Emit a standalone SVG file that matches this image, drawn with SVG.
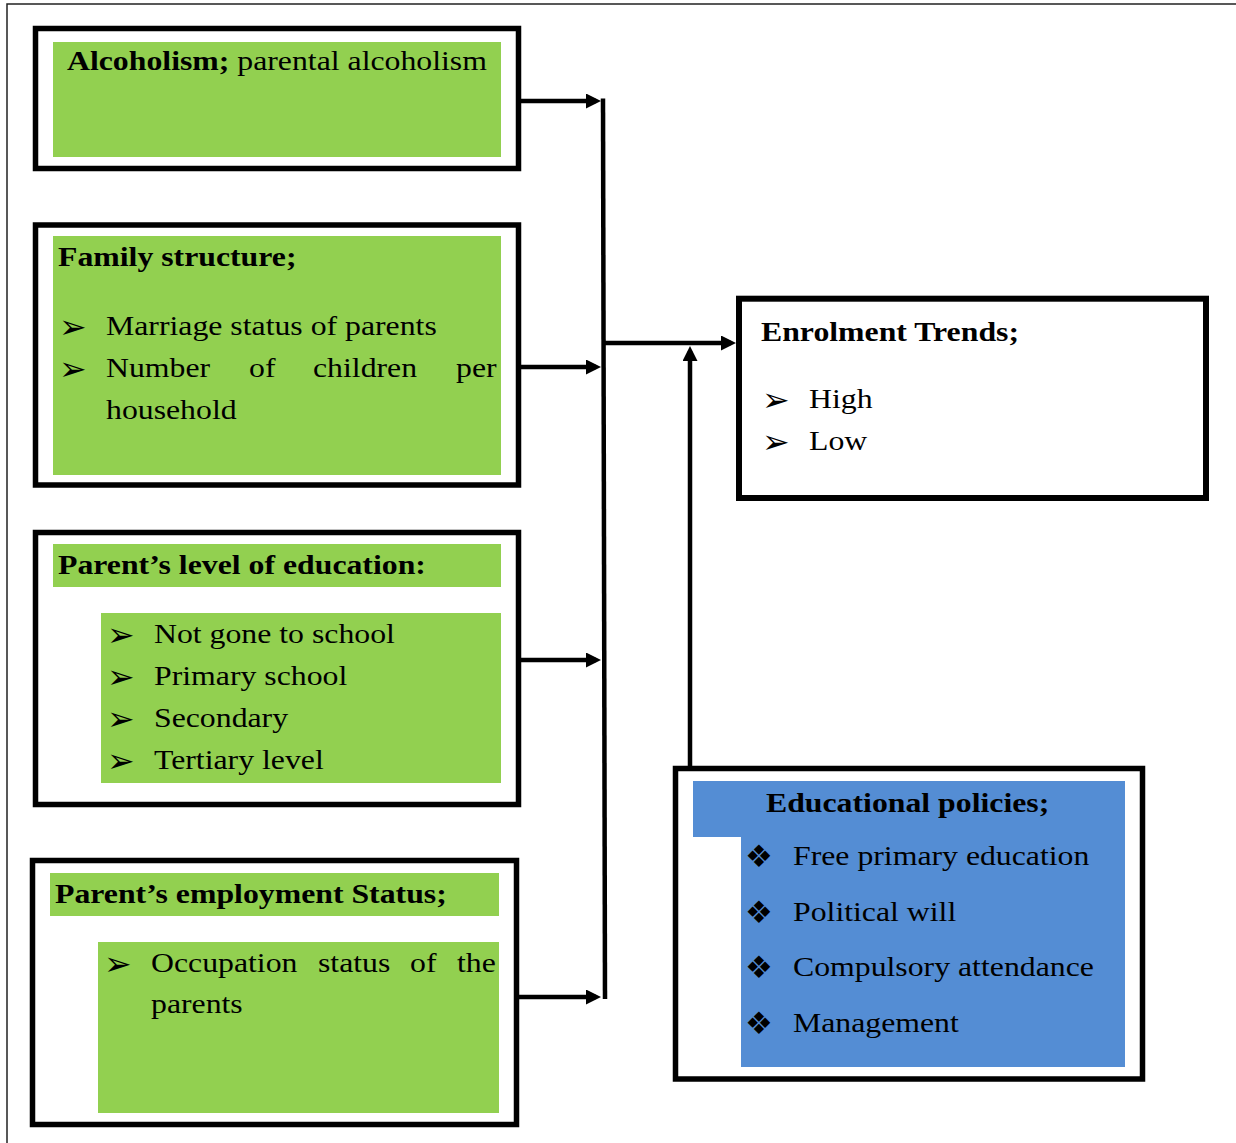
<svg xmlns="http://www.w3.org/2000/svg" width="1236" height="1143" viewBox="0 0 1236 1143">
<style>
.t{font-family:"Liberation Serif","Times New Roman",serif;font-size:28px;fill:#000}
.b{font-weight:bold}
.bul{font-family:"DejaVu Sans",sans-serif;font-size:33px;fill:#000}
.dia{font-family:"DejaVu Sans",sans-serif;font-size:31px;fill:#000}
.box{fill:#fff;stroke:#000;stroke-width:5.5}
.g{fill:#92D050}
.bl{fill:#548DD4}
.c{stroke:#000;stroke-width:4.5;fill:none}
</style>
<defs>
<marker id="ah" markerUnits="userSpaceOnUse" markerWidth="15" markerHeight="15" refX="10" refY="7.5" orient="auto">
<path d="M0,0 L15,7.5 L0,15 Z" fill="#000"/>
</marker>
</defs>
<rect width="1236" height="1143" fill="#fff"/>
<path d="M7,1143 L7,4 L1236,4" fill="none" stroke="#222" stroke-width="1.5"/>

<g id="node-alcoholism">
<rect class="box" x="35.5" y="28.5" width="483" height="140"/>
<rect class="g" x="53" y="42" width="448" height="115"/>
<text class="t" transform="matrix(1.135 0 0 1 67 70)"><tspan class="b">Alcoholism;</tspan> parental alcoholism</text>
</g>

<g id="node-family">
<rect class="box" x="35.5" y="225" width="483" height="260"/>
<rect class="g" x="53" y="236" width="448" height="239"/>
<text class="t b" transform="matrix(1.135 0 0 1 58 266)">Family structure;</text>
<text class="bul" x="59" y="338">➢</text>
<text class="t" transform="matrix(1.135 0 0 1 106 335)">Marriage status of parents</text>
<text class="bul" x="59" y="380">➢</text>
<text class="t" transform="matrix(1.135 0 0 1 106 377)"><tspan x="0">Number</tspan><tspan x="126">of</tspan><tspan x="182.4">children</tspan><tspan x="308.4">per</tspan></text>
<text class="t" transform="matrix(1.135 0 0 1 106 419)">household</text>
</g>

<g id="node-education">
<rect class="box" x="35.5" y="532.5" width="483" height="272"/>
<rect class="g" x="53" y="544" width="448" height="43"/>
<rect class="g" x="101" y="613" width="400" height="170"/>
<text class="t b" transform="matrix(1.135 0 0 1 58 574)">Parent’s level of education:</text>
<text class="bul" x="107" y="646">➢</text>
<text class="t" transform="matrix(1.135 0 0 1 154 643)">Not gone to school</text>
<text class="bul" x="107" y="688">➢</text>
<text class="t" transform="matrix(1.135 0 0 1 154 685)">Primary school</text>
<text class="bul" x="107" y="730">➢</text>
<text class="t" transform="matrix(1.135 0 0 1 154 727)">Secondary</text>
<text class="bul" x="107" y="772">➢</text>
<text class="t" transform="matrix(1.135 0 0 1 154 769)">Tertiary level</text>
</g>

<g id="node-employment">
<rect class="box" x="32.5" y="860.5" width="484" height="264"/>
<rect class="g" x="50" y="873" width="449" height="43"/>
<rect class="g" x="98" y="942" width="401" height="171"/>
<text class="t b" transform="matrix(1.135 0 0 1 55 903)">Parent’s employment Status;</text>
<text class="bul" x="104" y="975">➢</text>
<text class="t" transform="matrix(1.135 0 0 1 151 972)"><tspan x="0">Occupation</tspan><tspan x="147.1">status</tspan><tspan x="228.2">of</tspan><tspan x="269.6">the</tspan></text>
<text class="t" transform="matrix(1.135 0 0 1 151 1013)">parents</text>
</g>

<g id="node-enrolment">
<rect class="box" x="739" y="298.7" width="467" height="199.3" style="stroke-width:6"/>
<text class="t b" transform="matrix(1.135 0 0 1 761 341)">Enrolment Trends;</text>
<text class="bul" x="762" y="411">➢</text>
<text class="t" transform="matrix(1.135 0 0 1 809 408)">High</text>
<text class="bul" x="762" y="453">➢</text>
<text class="t" transform="matrix(1.135 0 0 1 809 450)">Low</text>
</g>

<g id="node-policies">
<rect class="box" x="675.5" y="768.5" width="467" height="310.5"/>
<rect class="bl" x="693" y="781" width="432" height="56"/>
<rect class="bl" x="741" y="836" width="384" height="231"/>
<text class="t b" transform="matrix(1.135 0 0 1 766 812)">Educational policies;</text>
<text class="dia" x="745" y="867">❖</text>
<text class="t" transform="matrix(1.135 0 0 1 793 865)">Free primary education</text>
<text class="dia" x="745" y="923">❖</text>
<text class="t" transform="matrix(1.135 0 0 1 793 921)">Political will</text>
<text class="dia" x="745" y="978">❖</text>
<text class="t" transform="matrix(1.135 0 0 1 793 976)">Compulsory attendance</text>
<text class="dia" x="745" y="1034">❖</text>
<text class="t" transform="matrix(1.135 0 0 1 793 1032)">Management</text>
</g>

<g id="connectors">
<line class="c" x1="521" y1="101" x2="596" y2="101" marker-end="url(#ah)"/>
<line class="c" x1="521" y1="367" x2="596" y2="367" marker-end="url(#ah)"/>
<line class="c" x1="521" y1="660" x2="596" y2="660" marker-end="url(#ah)"/>
<line class="c" x1="519" y1="997" x2="596" y2="997" marker-end="url(#ah)"/>
<line class="c" x1="603" y1="98.5" x2="605" y2="999"/>
<line class="c" x1="604" y1="343" x2="731" y2="343" marker-end="url(#ah)"/>
<line class="c" x1="690" y1="766" x2="690" y2="351" marker-end="url(#ah)"/>
</g>
</svg>
